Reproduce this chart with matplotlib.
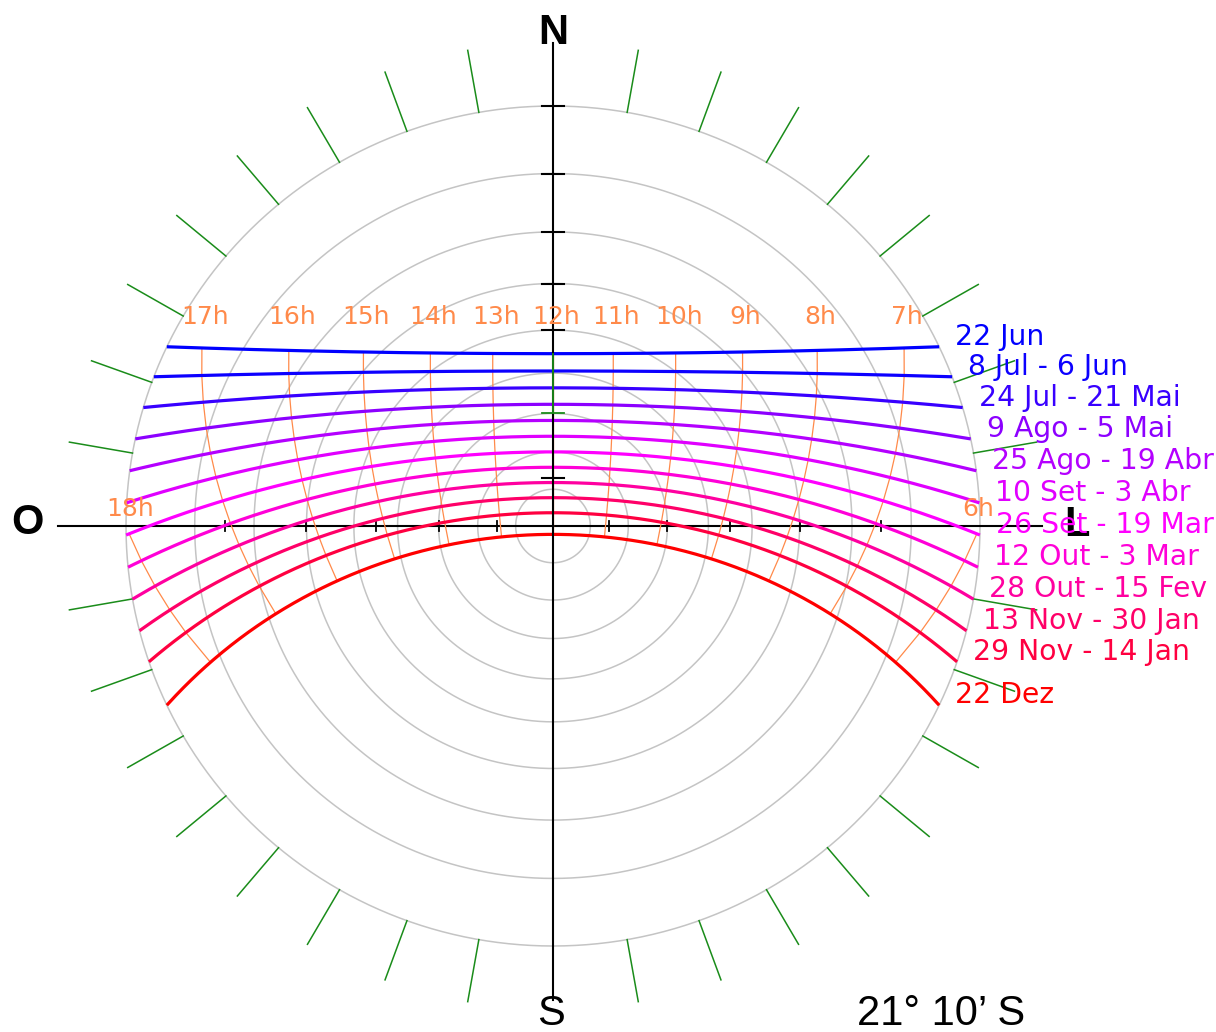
import numpy as np
import matplotlib
matplotlib.use("Agg")
import matplotlib.pyplot as plt

# ---------------- data ----------------
latitude_deg = -(21 + 10 / 60)          # 21° 10' S
date_labels = ["22 Jun", "8 Jul - 6 Jun", "24 Jul - 21 Mai", "9 Ago - 5 Mai",
               "25 Ago - 19 Abr", "10 Set - 3 Abr", "26 Set - 19 Mar",
               "12 Out - 3 Mar", "28 Out - 15 Fev", "13 Nov - 30 Jan",
               "29 Nov - 14 Jan", "22 Dez"]
declinations_deg = [23.45, 19.35, 15.25, 11.15, 7.05, 2.95, -1.15,
                    -5.25, -9.35, -13.45, -17.55, -23.45]
date_colors = ["#0000ff", "#0c00ff", "#3800ff", "#8c00ff", "#b400ff", "#e000ff",
               "#ff00ff", "#ff00d8", "#ff00a0", "#ff0068", "#ff0040", "#ff0000"]
hours = [6, 7, 8, 9, 10, 11, 12, 13, 14, 15, 16, 17, 18]
hour_labels = ["6h", "7h", "8h", "9h", "10h", "11h", "12h", "13h", "14h",
               "15h", "16h", "17h", "18h"]
zenith_circles_deg = [10, 20, 30, 40, 50, 60, 70, 80, 90]
azimuth_marks_deg = [a for a in range(10, 360, 10) if a % 90 != 0]
north_axis_ticks_deg = [90, 80, 70, 60, 50, 13]
north_axis_green_tick_deg = 30
east_west_axis_ticks_deg = [15, 30, 45, 60, 75]
cardinal_labels = {"N": "N", "S": "S", "W": "O", "E": "L"}
latitude_label = "21\u00b0 10\u2019 S"

# ---------------- geometry helpers ----------------
PX_X = 1 / 427.0   # data units per pixel (horizontal)
PX_Y = 1 / 420.0   # data units per pixel (vertical)
phi = np.radians(latitude_deg)


def sun_project(dec_deg, hour_angle_deg):
    d = np.radians(dec_deg)
    h = np.radians(hour_angle_deg)
    east = -np.cos(d) * np.sin(h)
    north = np.cos(phi) * np.sin(d) - np.sin(phi) * np.cos(d) * np.cos(h)
    up = np.sin(phi) * np.sin(d) + np.cos(phi) * np.cos(d) * np.cos(h)
    return east / (1 + up), north / (1 + up), up


def stereo_r(zenith_deg):
    return np.tan(np.radians(zenith_deg) / 2)


# ---------------- figure ----------------
fig = plt.figure(figsize=(12.16, 10.32), dpi=100)
ax = fig.add_axes([0, 0, 1, 1])
ax.set_xlim(-553 * PX_X, (1216 - 553) * PX_X)
ax.set_ylim(-(1032 - 526) * PX_Y, 526 * PX_Y)
ax.axis("off")

theta = np.linspace(0, 2 * np.pi, 721)
for z in zenith_circles_deg:
    r = stereo_r(z)
    ax.plot(r * np.sin(theta), r * np.cos(theta), color="#c4c4c4", lw=1.1, zorder=1)

# green azimuth marks outside the horizon
for a in azimuth_marks_deg:
    t = np.radians(a)
    r0, r1 = 1.0, 1.0 + 63 * PX_Y
    ax.plot([r0 * np.sin(t), r1 * np.sin(t)], [r0 * np.cos(t), r1 * np.cos(t)],
            color="#1a8c1a", lw=1.1, zorder=1)

# horizontal (W-E) axis, below the sun paths
ax.plot([-495 * PX_X, 489 * PX_X], [0, 0], color="black", lw=1.5, zorder=2)
for z in east_west_axis_ticks_deg:
    r = stereo_r(z)
    for s in (-1, 1):
        ax.plot([s * r, s * r], [-5 * PX_Y, 5 * PX_Y], color="black", lw=1.3, zorder=2)

# hour lines
for h, lab in zip(hours, hour_labels):
    H = 15 * (h - 12)
    xs, ys = [], []
    for dec in declinations_deg:
        x, y, up = sun_project(dec, H)
        if up >= 0:
            xs.append(x)
            ys.append(y)
    ax.plot(xs, ys, color="#ff8a4a", lw=0.9, zorder=3)
    if h in (6, 18):
        ax.annotate(lab, (xs[0], ys[0]), xytext=(1, 25), textcoords="offset pixels",
                    ha="center", va="center", color="#ff8a4a", fontsize=18,
                    family="DejaVu Sans", zorder=6)
    else:
        ax.text(xs[0] + 3 * PX_X, (526 - 317) * PX_Y, lab, ha="center", va="center",
                color="#ff8a4a", fontsize=18, family="DejaVu Sans", zorder=6)

# sun paths (date lines)
for dec, lab, col in zip(declinations_deg, date_labels, date_colors):
    c = -np.tan(phi) * np.tan(np.radians(dec))
    H0 = np.degrees(np.arccos(np.clip(c, -1, 1)))
    H = np.linspace(-H0, H0, 600)
    x, y, _ = sun_project(dec, H)
    ax.plot(x, y, color=col, lw=2.3, zorder=4, solid_capstyle="butt")
    ax.annotate(lab, (x[0], y[0]), xytext=(16, 10), textcoords="offset pixels",
                ha="left", va="center", color=col, fontsize=20.3,
                family="DejaVu Sans", zorder=6)

# vertical (N-S) axis on top
ax.plot([0, 0], [(526 - 43) * PX_Y, -(1000 - 526) * PX_Y], color="black", lw=1.5, zorder=5)
for z in north_axis_ticks_deg:
    r = stereo_r(z)
    ax.plot([-11 * PX_X, 11 * PX_X], [r, r], color="black", lw=1.5, zorder=5)
x22, y22, _ = sun_project(declinations_deg[0], 0)
rg = stereo_r(north_axis_green_tick_deg)
ax.plot([0, 0], [y22, rg], color="#1a8c1a", lw=1.3, zorder=5.5)
ax.plot([-11 * PX_X, 11 * PX_X], [rg, rg], color="#1a8c1a", lw=1.3, zorder=5.5)

# cardinal labels
cfont = dict(family="Liberation Sans", fontsize=30, color="black", ha="center", va="center")
ax.text(0, (526 - 33) * PX_Y, cardinal_labels["N"], fontweight="bold", **cfont)
ax.text(-2 * PX_X, -(1014 - 526) * PX_Y, cardinal_labels["S"], **cfont)
ax.text(-(553 - 27) * PX_X, (526 - 523) * PX_Y, cardinal_labels["W"], fontweight="bold", **cfont)
ax.text((1077 - 553) * PX_X, (526 - 525) * PX_Y, cardinal_labels["E"], fontweight="bold", **cfont)
ax.text((941 - 553) * PX_X, -(1014 - 526) * PX_Y, latitude_label, **cfont)

fig.savefig("out.png", dpi=100)
